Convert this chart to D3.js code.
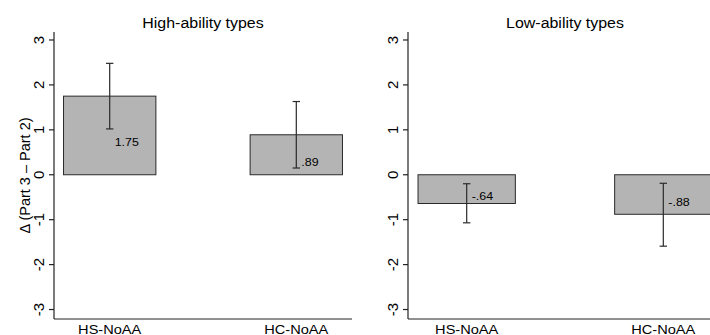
<!DOCTYPE html>
<html>
<head>
<meta charset="utf-8">
<script src="https://cdn.jsdelivr.net/npm/d3@7"></script>
<style>
  html, body { margin: 0; padding: 0; background: #fff; }
  svg { display: block; font-family: "Liberation Sans", Arial, Helvetica, sans-serif; }
</style>
</head>
<body>
<svg id="chart" width="710" height="335"></svg>
<script>
// ---- data ----
const categories = ["HS-NoAA", "HC-NoAA"];
const panelTitles = ["High-ability types", "Low-ability types"];
const highValues = [1.75, 0.89];
const highLower = [1.02, 0.15];
const highUpper = [2.48, 1.63];
const lowValues = [-0.64, -0.88];
const lowLower = [-1.07, -1.59];
const lowUpper = [-0.20, -0.19];
const valueLabels = [["1.75", ".89"], ["-.64", "-.88"]];
const yTicks = [-3, -2, -1, 0, 1, 2, 3];
const yTitle = "\u0394 (Part 3 \u2013 Part 2)";

const panels = [
  { title: panelTitles[0], values: highValues, lo: highLower, hi: highUpper, labels: valueLabels[0], x0: 54, x1: 352 },
  { title: panelTitles[1], values: lowValues, lo: lowLower, hi: lowUpper, labels: valueLabels[1], x0: 408, x1: 722 }
];

const svg = d3.select("#chart");
const y = d3.scaleLinear().domain([-3.2, 3.2]).range([318.5, 31]);
const axisBottomY = 319;
const axisTopY = 32;

function hText(g, x, y0, txt, size, sx, anchor) {
  return g.append("text")
    .attr("transform", `translate(${x},${y0}) scale(${sx},1)`)
    .attr("text-anchor", anchor)
    .attr("font-size", size)
    .attr("fill", "#000")
    .text(txt);
}

panels.forEach(p => {
  const g = svg.append("g");
  const x = d3.scaleBand().domain(categories).range([p.x0, p.x1])
    .paddingInner(0.505).paddingOuter(0.051);

  // bars
  categories.forEach((c, i) => {
    const v = p.values[i];
    g.append("rect")
      .attr("x", x(c))
      .attr("width", x.bandwidth())
      .attr("y", Math.min(y(0), y(v)))
      .attr("height", Math.abs(y(v) - y(0)))
      .attr("fill", "#b4b4b4")
      .attr("stroke", "#2a2a2a")
      .attr("stroke-width", 1);
  });

  // error bars
  categories.forEach((c, i) => {
    const cx = x(c) + x.bandwidth() / 2;
    const cap = 3.7;
    const eg = g.append("g").attr("stroke", "#2a2a2a").attr("stroke-width", 1.2);
    eg.append("line").attr("x1", cx).attr("x2", cx).attr("y1", y(p.hi[i])).attr("y2", y(p.lo[i]));
    eg.append("line").attr("x1", cx - cap).attr("x2", cx + cap).attr("y1", y(p.hi[i])).attr("y2", y(p.hi[i]));
    eg.append("line").attr("x1", cx - cap).attr("x2", cx + cap).attr("y1", y(p.lo[i])).attr("y2", y(p.lo[i]));
    // value label
    const mid = (y(0) + y(p.values[i])) / 2;
    hText(g, cx + 5, mid + 11, p.labels[i], 11.5, 1.08, "start");
  });

  // y axis
  const ag = g.append("g");
  ag.append("line").attr("x1", p.x0).attr("x2", p.x0).attr("y1", axisTopY).attr("y2", axisBottomY)
    .attr("stroke", "#222").attr("stroke-width", 1.2);
  yTicks.forEach(t => {
    ag.append("line").attr("x1", p.x0 - 5).attr("x2", p.x0).attr("y1", y(t)).attr("y2", y(t))
      .attr("stroke", "#222").attr("stroke-width", 1.2);
    ag.append("text")
      .attr("transform", `translate(${p.x0 - 10.5},${y(t)}) rotate(-90)`)
      .attr("text-anchor", "middle")
      .attr("font-size", 15)
      .attr("fill", "#000")
      .text(t);
  });

  // x axis
  ag.append("line").attr("x1", p.x0).attr("x2", p.x1).attr("y1", axisBottomY).attr("y2", axisBottomY)
    .attr("stroke", "#222").attr("stroke-width", 1.2);
  categories.forEach(c => {
    hText(ag, x(c) + x.bandwidth() / 2, 333.5, c, 13.5, 1.08, "middle");
  });

  // title
  hText(g, (p.x0 + p.x1) / 2, 27.5, p.title, 14.5, 1.1, "middle");
});

// y-axis title (left panel)
svg.append("text")
  .attr("transform", `translate(30,${(axisTopY + axisBottomY) / 2}) rotate(-90)`)
  .attr("text-anchor", "middle")
  .attr("font-size", 14.5)
  .attr("fill", "#000")
  .text(yTitle);
</script>
</body>
</html>
